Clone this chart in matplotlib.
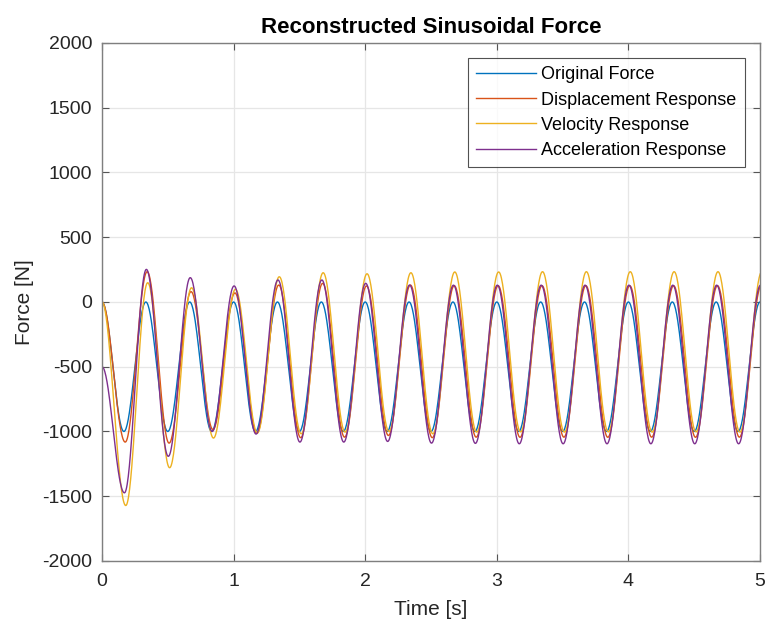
import numpy as np
import matplotlib
matplotlib.use("Agg")
import matplotlib.pyplot as plt

plt.rcParams['font.family'] = ['Liberation Sans', 'DejaVu Sans']
plt.rcParams['axes.unicode_minus'] = False

# ---- data: extrema (every 1/6 s from 0 to 5 s) ----
extrema_times = [k / 6 for k in range(31)]

original_force = [0, -1000, 0, -1000, 0, -1000, 0, -1000, 0, -1000, 0,
                  -1000, 0, -1000, 0, -1000, 0, -1000, 0, -1000, 0,
                  -1000, 0, -1000, 0, -1000, 0, -1000, 0, -1000, 0]
displacement_resp = [0, -1082, 234, -1090, 80, -985, 70, -1015, 131, -1048, 144,
                     -1044, 124, -1031, 131, -1048, 126, -1044, 126, -1045, 126,
                     -1044, 126, -1045, 126, -1044, 126, -1045, 126, -1044, 126]
velocity_resp = [0, -1572, 149, -1280, 110, -1051, 98, -1010, 195, -1018, 226,
                 -1005, 218, -1000, 226, -1018, 232, -1005, 232, -1003, 234,
                 -1005, 234, -1003, 234, -1005, 234, -1003, 234, -1005, 234]
acceleration_resp = [-500, -1474, 252, -1192, 188, -1000, 124, -1020, 170, -1082, 170,
                     -1082, 144, -1077, 131, -1090, 130, -1092, 130, -1095, 130,
                     -1095, 130, -1095, 130, -1095, 130, -1095, 130, -1095, 130]

series_labels = ['Original Force', 'Displacement Response',
                 'Velocity Response', 'Acceleration Response']
series_values = [original_force, displacement_resp, velocity_resp, acceleration_resp]
series_lag = [0.0, 0.010, 0.014, 0.004]   # small time offsets seen in the picture
colors = ['#0072BD', '#D95319', '#EDB120', '#7E2F8E']

x_ticks = [0, 1, 2, 3, 4, 5]
y_ticks = [-2000, -1500, -1000, -500, 0, 500, 1000, 1500, 2000]


def smooth_through_extrema(times, vals, lag, n=40):
    xs, ys = [], []
    for i in range(len(vals) - 1):
        s = np.linspace(0, 1, n, endpoint=False)
        ta, tb = times[i] + lag, times[i + 1] + lag
        if i == 0:
            ta = times[0]
        xs.append(ta + (tb - ta) * s)
        ys.append(vals[i] + (vals[i + 1] - vals[i]) * (1 - np.cos(np.pi * s)) / 2)
    xs.append([times[-1] + lag])
    ys.append([vals[-1]])
    return np.concatenate(xs), np.concatenate(ys)


fig = plt.figure(figsize=(7.65, 6.24), dpi=100)
ax = fig.add_axes([0.1333, 0.101, 0.8602, 0.8301])

for lab, vals, lag, c in zip(series_labels, series_values, series_lag, colors):
    x, y = smooth_through_extrema(extrema_times, vals, lag)
    ax.plot(x, y, color=c, lw=1.0, label=lab)

ax.set_xlim(0, 5)
ax.set_ylim(-2000, 2000)
ax.set_xticks(x_ticks)
ax.set_yticks(y_ticks)
ax.grid(True, color='#e6e6e6', lw=0.9)
ax.set_axisbelow(True)
edge = '#262626'
for sp in ax.spines.values():
    sp.set_color('#7f7f7f')
    sp.set_linewidth(1.0)
ax.tick_params(direction='in', top=True, right=True, length=5, width=0.8,
               color='#555555', labelsize=14, labelcolor=edge)
ax.tick_params(axis='x', pad=9)
ax.tick_params(axis='y', pad=7)

ax.set_xlabel('Time [s]', fontsize=15, color=edge, labelpad=7)
ax.set_ylabel('Force [N]', fontsize=15, color=edge, labelpad=6)
ax.set_title('Reconstructed Sinusoidal Force', fontsize=16, fontweight='bold',
             color='black', pad=7)

leg = ax.legend(loc='upper right', fontsize=13, frameon=True, fancybox=False,
                handlelength=3.3, handletextpad=0.3, labelspacing=0.45,
                borderaxespad=0.85, borderpad=0.45)
leg.get_frame().set_edgecolor('#262626')
leg.get_frame().set_linewidth(0.8)
for h in leg.get_lines():
    h.set_linewidth(1.0)

fig.savefig('out.png', dpi=100)
